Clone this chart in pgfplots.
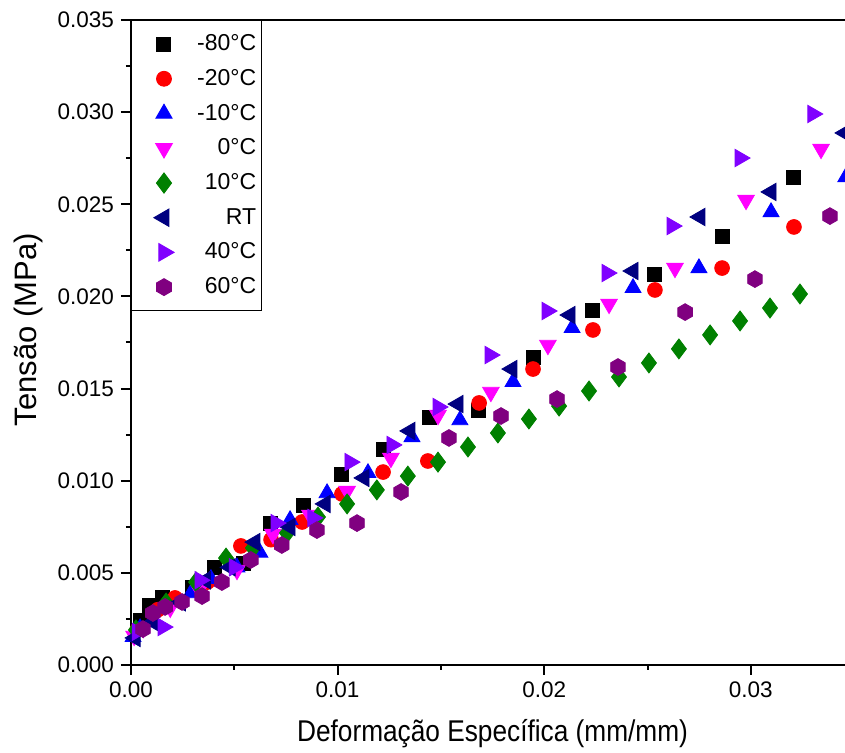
\documentclass[border=0pt]{standalone}
\usepackage{fontspec}
\setmainfont{Liberation Sans}
\newfontfamily\xlabfont[FakeStretch=0.875]{Liberation Sans}
\usepackage{pgfplots}
\pgfplotsset{compat=1.18}
\usetikzlibrary{plotmarks}

\definecolor{cblack}{RGB}{0,0,0}
\definecolor{cred}{RGB}{255,0,0}
\definecolor{cblue}{RGB}{0,0,255}
\definecolor{cmag}{RGB}{255,0,255}
\definecolor{cgreen}{RGB}{0,128,0}
\definecolor{cnavy}{RGB}{0,0,128}
\definecolor{cviolet}{RGB}{128,0,255}
\definecolor{cpurple}{RGB}{128,0,128}

\pgfdeclareplotmark{hexagon*}{%
  \pgfpathmoveto{\pgfpointpolar{90}{\pgfplotmarksize}}%
  \pgfpathlineto{\pgfpointpolar{150}{\pgfplotmarksize}}%
  \pgfpathlineto{\pgfpointpolar{210}{\pgfplotmarksize}}%
  \pgfpathlineto{\pgfpointpolar{270}{\pgfplotmarksize}}%
  \pgfpathlineto{\pgfpointpolar{330}{\pgfplotmarksize}}%
  \pgfpathlineto{\pgfpointpolar{30}{\pgfplotmarksize}}%
  \pgfpathclose
  \pgfusepathqfillstroke}

\begin{document}
\begin{tikzpicture}
\begin{axis}[
  scale only axis,
  width=361.55pt, height=322.5pt,
  xmin=0, xmax=0.035, ymin=0, ymax=0.035,
  xtick={0,0.01,0.02,0.03},
  ytick={0,0.005,0.010,0.015,0.020,0.025,0.030,0.035},
  minor xtick={0.005,0.015,0.025},
  minor ytick={0.0025,0.0075,0.0125,0.0175,0.0225,0.0275,0.0325},
  xtick pos=left, ytick pos=left, tick align=outside,
  major tick length=5pt, minor tick length=2.5pt,
  every tick/.style={black, line width=1pt},
  axis line style={line width=1.1pt},
  scaled ticks=false,
  /pgf/number format/assume math mode=true,
  xticklabel style={/pgf/number format/.cd, fixed, fixed zerofill, precision=2},
  yticklabel style={/pgf/number format/.cd, fixed, fixed zerofill, precision=3},
  tick label style={font=\fontsize{11.25}{13}\selectfont},
  xlabel={Deformação Específica (mm/mm)},
  ylabel={Tensão (MPa)},
  xlabel style={font=\xlabfont\fontsize{15}{17}\selectfont, at={(axis description cs:0.5,-0.107)}, anchor=center},
  ylabel style={font=\fontsize{15.5}{17}\selectfont, at={(axis description cs:-0.142,0.52)}, anchor=center},
  legend style={at={(rel axis cs:0,1)}, anchor=north west, draw=black, line width=0.5pt,
    font=\fontsize{11.5}{13}\selectfont, inner xsep=0.5pt, inner ysep=5pt, row sep=3.85pt},
  legend image code/.code={\path (-15.5pt,0pt) (14.3pt,0pt); \draw[#1] plot coordinates {(0pt,0pt)};},
  legend cell align=right,
]
\addplot[only marks, mark=square*, mark size=3.5pt, color=cblack] coordinates {
(0.00044,0.00244) (0.00087,0.00326) (0.00150,0.00369) (0.00295,0.00423) (0.00406,0.00532)
(0.00542,0.00553) (0.00673,0.00770) (0.00833,0.00868) (0.01016,0.01036) (0.01220,0.01172)
(0.01442,0.01346) (0.01680,0.01384) (0.01946,0.01671) (0.02232,0.01926) (0.02532,0.02122)
(0.02861,0.02328) (0.03205,0.02648)};
\addlegendentry{-80°C}
\addplot[only marks, mark=*, mark size=3.7pt, color=cred] coordinates {
(0.00030,0.00190) (0.00130,0.00300) (0.00213,0.00364) (0.00370,0.00450) (0.00532,0.00646)
(0.00678,0.00680) (0.00828,0.00776) (0.01021,0.00928) (0.01220,0.01047) (0.01437,0.01107)
(0.01685,0.01422) (0.01946,0.01606) (0.02236,0.01818) (0.02536,0.02035) (0.02861,0.02154)
(0.03209,0.02377)};
\addlegendentry{-20°C}
\addplot[only marks, mark=triangle*, mark size=4.6pt, color=cblue] coordinates {
(0.00010,0.00152) (0.00044,0.00200) (0.00290,0.00390) (0.00387,0.00467) (0.00513,0.00530)
(0.00624,0.00610) (0.00770,0.00787) (0.00949,0.00933) (0.01147,0.01042) (0.01360,0.01237)
(0.01592,0.01329) (0.01849,0.01536) (0.02135,0.01829) (0.02430,0.02046) (0.02749,0.02154)
(0.03098,0.02458) (0.03460,0.02648)};
\addlegendentry{-10°C}
\addplot[only marks, mark=triangle*, mark size=4.8pt, mark options={rotate=180}, color=cmag] coordinates {
(0.00015,0.00157) (0.00060,0.00200) (0.00190,0.00310) (0.00330,0.00407) (0.00513,0.00515)
(0.00687,0.00710) (0.00866,0.00814) (0.01046,0.00944) (0.01258,0.01123) (0.01486,0.01356)
(0.01742,0.01481) (0.02018,0.01736) (0.02314,0.01959) (0.02633,0.02154) (0.02977,0.02523)
(0.03340,0.02800)};
\addlegendentry{0°C}
\addplot[only marks, mark=diamond*, mark size=5pt, color=cgreen] coordinates {
(0.00024,0.00190) (0.00170,0.00336) (0.00315,0.00450) (0.00460,0.00580) (0.00590,0.00635)
(0.00755,0.00716) (0.00905,0.00803) (0.01046,0.00874) (0.01190,0.00950) (0.01340,0.01025)
(0.01486,0.01101) (0.01631,0.01183) (0.01776,0.01259) (0.01926,0.01335) (0.02072,0.01405)
(0.02217,0.01487) (0.02362,0.01563) (0.02507,0.01639) (0.02652,0.01715) (0.02803,0.01791)
(0.02948,0.01867) (0.03093,0.01937) (0.03238,0.02013)};
\addlegendentry{10°C}
\addplot[only marks, mark=triangle*, mark size=5pt, mark options={rotate=90}, color=cnavy] coordinates {
(0.00020,0.00147) (0.00106,0.00233) (0.00240,0.00340) (0.00360,0.00460) (0.00480,0.00530)
(0.00600,0.00667) (0.00770,0.00749) (0.00940,0.00874) (0.01128,0.01015) (0.01350,0.01270)
(0.01583,0.01416) (0.01844,0.01606) (0.02125,0.01899) (0.02430,0.02138) (0.02754,0.02431)
(0.03098,0.02567) (0.03456,0.02887)};
\addlegendentry{RT}
\addplot[only marks, mark=triangle*, mark size=5pt, mark options={rotate=-90}, color=cviolet] coordinates {
(0.00030,0.00180) (0.00155,0.00206) (0.00334,0.00460) (0.00500,0.00530) (0.00702,0.00770)
(0.00880,0.00798) (0.01060,0.01101) (0.01263,0.01194) (0.01486,0.01400) (0.01738,0.01682)
(0.02014,0.01921) (0.02304,0.02127) (0.02619,0.02382) (0.02948,0.02751) (0.03300,0.02990)};
\addlegendentry{40°C}
\addplot[only marks, mark=hexagon*, mark size=4.2pt, color=cpurple] coordinates {
(0.00058,0.00195) (0.00106,0.00282) (0.00165,0.00315) (0.00247,0.00342) (0.00344,0.00374)
(0.00440,0.00450) (0.00580,0.00570) (0.00730,0.00651) (0.00900,0.00732) (0.01094,0.00770)
(0.01307,0.00939) (0.01539,0.01232) (0.01791,0.01351) (0.02062,0.01443) (0.02357,0.01617)
(0.02682,0.01915) (0.03020,0.02094) (0.03383,0.02436)};
\addlegendentry{60°C}
\coordinate (O) at (rel axis cs:0,0);
\coordinate (T) at (rel axis cs:0,1);
\end{axis}
\pgfresetboundingbox
\useasboundingbox ([xshift=-65.5pt,yshift=-44pt]O) rectangle ([xshift=357pt,yshift=10pt]T);
\end{tikzpicture}
\end{document}
